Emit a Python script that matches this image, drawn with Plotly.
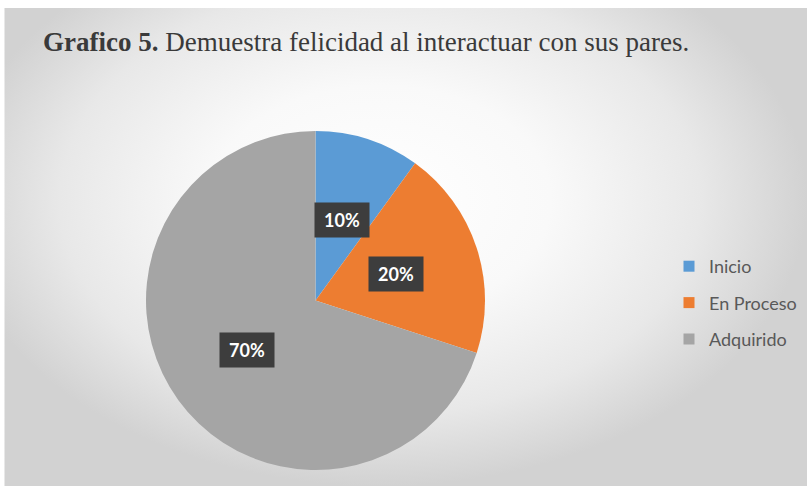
import math
import plotly.graph_objects as go

# ---- data ----
categories = ["Inicio", "En Proceso", "Adquirido"]
values = [10, 20, 70]
colors = ["#5B9BD5", "#ED7D31", "#A5A5A5"]
title_bold = "Grafico 5."
title_rest = " Demuestra felicidad al interactuar con sus pares."

W, H = 807, 486
# pie geometry (pixels, from top-left)
cx, cy, R = 315.5, 300.5, 169.5

fig = go.Figure()

# background radial gradient panel (pixel coords, y from top); box extends beyond view to move its centre
gx0, gx1, gy0, gy1 = -47, 807, -86, 486
fig.add_trace(go.Scatter(
    x=[gx0, gx1, gx1, gx0, gx0], y=[H - gy1, H - gy1, H - gy0, H - gy0, H - gy1],
    mode="lines", line=dict(width=0), fill="toself",
    fillgradient=dict(type="radial",
                      colorscale=[[0, "#ffffff"], [0.4, "#f9f9f9"], [0.75, "#e8e8e8"], [1, "#d2d2d2"]]),
    hoverinfo="skip", showlegend=False,
))

# pie
fig.add_trace(go.Pie(
    labels=categories, values=values, sort=False, direction="clockwise", rotation=0,
    marker=dict(colors=colors, line=dict(width=0)),
    textinfo="none", hoverinfo="label+percent", showlegend=False,
    domain=dict(x=[(cx - R) / W, (cx + R) / W], y=[(H - cy - R) / H, (H - cy + R) / H]),
))

# legend entries
for c, col in zip(categories, colors):
    fig.add_trace(go.Scatter(
        x=[None], y=[None], mode="markers", name=c, legendgroup=c,
        marker=dict(symbol="square", size=11, color=col), showlegend=True,
    ))

# data labels
total = sum(values)
cum = 0
annotations = []
for v in values:
    mid = (cum + v / 2) / total * 2 * math.pi
    cum += v
    r = 0.5 * R
    px = cx + r * math.sin(mid)
    py = cy - r * math.cos(mid)
    annotations.append(dict(
        x=px / W, y=1 - py / H, xref="paper", yref="paper",
        text=f"<b>{round(v / total * 100)}%</b>", showarrow=False,
        font=dict(family="Lato", size=18, color="white"),
        bgcolor="#3d3d3d", width=52, height=32, xanchor="center", yanchor="middle",
    ))

fig.update_layout(
    width=W, height=H, margin=dict(l=0, r=0, t=0, b=0),
    paper_bgcolor="white", plot_bgcolor="rgba(0,0,0,0)",
    xaxis=dict(range=[4.5, W], domain=[4.5 / W, 1], visible=False, fixedrange=True),
    yaxis=dict(range=[0, H - 8], domain=[0, 1 - 8 / H], visible=False, fixedrange=True),
    title=dict(
        text=f"<b>{title_bold}</b>{title_rest}",
        x=43 / W, xanchor="left", y=1 - 42 / H, yanchor="middle",
        font=dict(family="Liberation Serif", size=27, color="#3a3a3a"),
    ),
    legend=dict(
        x=669 / W, xanchor="left", y=1 - 248 / H, yanchor="top",
        font=dict(family="Lato", size=18, color="#595959"),
        bgcolor="rgba(0,0,0,0)", tracegroupgap=10,
    ),
    annotations=annotations,
    showlegend=True,
)

fig.write_html(
    "out.html",
    config={"displayModeBar": False},
    post_script="document.body.style.margin='0px';document.body.style.overflow='hidden';",
)
